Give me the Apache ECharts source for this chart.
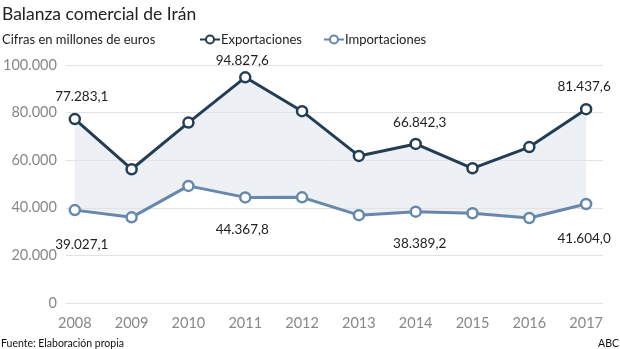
<!DOCTYPE html>
<html><head><meta charset="utf-8">
<script src="https://cdn.jsdelivr.net/npm/echarts@6/dist/echarts.min.js"></script>
<style>html,body{margin:0;padding:0;background:#fff}#c{width:620px;height:349px}</style>
</head><body><div id="c"></div>
<script>
var years = [2008, 2009, 2010, 2011, 2012, 2013, 2014, 2015, 2016, 2017];
var exportaciones = [77283.1, 56200, 75800, 94827.6, 80600, 61800, 66842.3, 56600, 65500, 81437.6];
var importaciones = [39027.1, 36000, 49200, 44367.8, 44400, 36900, 38389.2, 37700, 35700, 41604.0];
var labeledYears = [2008, 2011, 2014, 2017];

function fmt(v, dec) {
  var s = v.toFixed(dec);
  var parts = s.split('.');
  var int = parts[0].replace(/\B(?=(\d{3})+(?!\d))/g, '.');
  return parts.length > 1 ? int + ',' + parts[1] : int;
}

var FONT = 'Lato, sans-serif';
var cExp = '#233d55', cImp = '#6787ab';

function pairs(arr) { return years.map(function (y, i) { return [y, arr[i]]; }); }

// label placement (style only): [dx, position, distance]
var expLabelStyle = { 2008: [7, 'top', 9], 2011: [-3, 'top', 3], 2014: [4, 'top', 8], 2017: [-2, 'top', 9] };
var impLabelStyle = { 2008: [7, 'bottom', 21], 2011: [-3, 'bottom', 19], 2014: [4, 'bottom', 19], 2017: [-2, 'bottom', 21] };

function buildData(arr, styles) {
  return years.map(function (y, i) {
    var item = { value: [y, arr[i]] };
    var s = labeledYears.indexOf(y) >= 0 ? styles[y] : null;
    if (s) {
      item.label = {
        show: true, position: s[1], distance: s[2], offset: [s[0], 0],
        color: '#222', fontSize: 13.5, fontFamily: FONT,
        formatter: function (p) { return fmt(p.value[1], 1); }
      };
    }
    return item;
  });
}

var chart = echarts.init(document.getElementById('c'), null, { renderer: 'canvas' });
chart.setOption({
  animation: false,
  title: [
    { text: 'Balanza comercial de Irán', left: -3, top: 0,
      textStyle: { fontSize: 17.5, fontWeight: 'normal', color: '#222', fontFamily: FONT } },
    { text: 'Cifras en millones de euros', left: -3, top: 28,
      textStyle: { fontSize: 13, fontWeight: 'normal', color: '#222', fontFamily: FONT } },
    { text: 'Fuente: Elaboración propia', left: -4, top: 333,
      textStyle: { fontSize: 10.5, fontWeight: 'normal', color: '#111', fontFamily: FONT } },
    { text: 'ABC', right: -4, top: 333,
      textStyle: { fontSize: 10.5, fontWeight: 'normal', color: '#111', fontFamily: FONT } }
  ],
  legend: {
    top: 28, left: 194, itemGap: 21, itemWidth: 20, itemHeight: 10,
    data: ['Exportaciones', 'Importaciones'],
    textStyle: { fontSize: 13, color: '#222', fontFamily: FONT, padding: [0, 0, 0, -4] }
  },
  grid: { left: 62, right: 17, top: 65, bottom: 46, containLabel: false },
  xAxis: {
    type: 'value', min: 2007.843, max: 2017.297,
    axisLine: { show: false }, axisTick: { show: false }, splitLine: { show: false },
    axisLabel: {
      customValues: years, showMinLabel: true, showMaxLabel: true,
      formatter: function (v) { return String(v); },
      color: '#888', fontSize: 14.5, fontFamily: FONT, margin: 13
    }
  },
  yAxis: {
    type: 'value', min: 0, max: 100000, interval: 20000, z: 3,
    axisLine: { show: false }, axisTick: { show: false },
    splitLine: { lineStyle: { color: '#e3e3e3', width: 1 } },
    axisLabel: {
      formatter: function (v) { return fmt(v, 0); },
      color: '#888', fontSize: 14.5, fontFamily: FONT, margin: 9
    }
  },
  series: [
    { name: 'bandTop', type: 'line', data: pairs(exportaciones), z: 1,
      symbol: 'none', lineStyle: { opacity: 0 }, silent: true,
      areaStyle: { color: '#edf1f6', opacity: 1 } },
    { name: 'bandBottom', type: 'line', data: pairs(importaciones), z: 2,
      symbol: 'none', lineStyle: { opacity: 0 }, silent: true,
      areaStyle: { color: '#ffffff', opacity: 1 } },
    { name: 'Exportaciones', type: 'line', data: buildData(exportaciones, expLabelStyle), z: 6,
      symbol: 'circle', symbolSize: 10,
      lineStyle: { color: cExp, width: 3 },
      itemStyle: { color: '#fff', borderColor: cExp, borderWidth: 2.5 } },
    { name: 'Importaciones', type: 'line', data: buildData(importaciones, impLabelStyle), z: 5,
      symbol: 'circle', symbolSize: 10,
      lineStyle: { color: cImp, width: 3 },
      itemStyle: { color: '#fff', borderColor: cImp, borderWidth: 2.5 } }
  ]
});
</script></body></html>
